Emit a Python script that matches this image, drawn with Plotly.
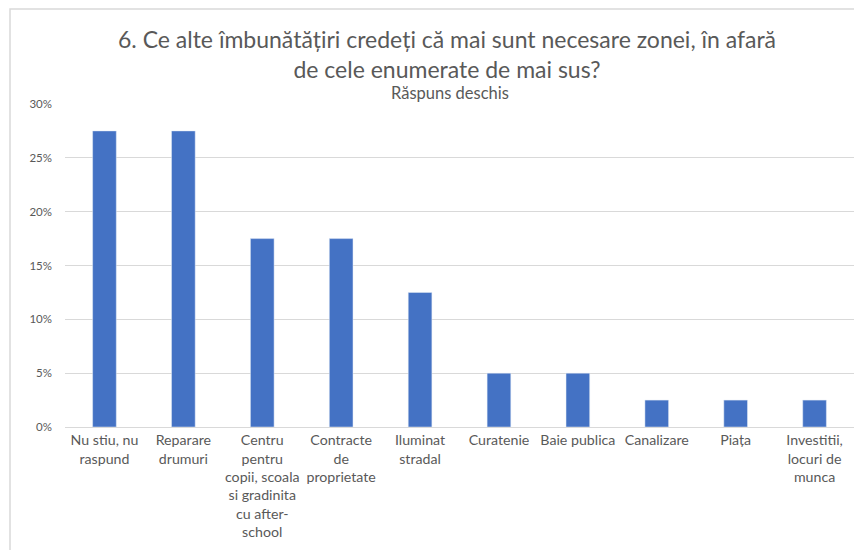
import plotly.graph_objects as go

categories = [
    "Nu stiu, nu<br>raspund",
    "Reparare<br>drumuri",
    "Centru<br>pentru<br>copii, scoala<br>si gradinita<br>cu after-<br>school",
    "Contracte<br>de<br>proprietate",
    "Iluminat<br>stradal",
    "Curatenie",
    "Baie publica",
    "Canalizare",
    "Piața",
    "Investitii,<br>locuri de<br>munca",
]
values = [0.275, 0.275, 0.175, 0.175, 0.125, 0.05, 0.05, 0.025, 0.025, 0.025]
y_ticks = [0, 0.05, 0.10, 0.15, 0.20, 0.25, 0.30]
y_tick_labels = ["0%", "5%", "10%", "15%", "20%", "25%", "30%"]

FONT = "Lato, 'Open Sans', sans-serif"
GRAY = "#595959"

fig = go.Figure(go.Bar(x=categories, y=values, marker_color="#4472C4", width=0.3))

fig.update_layout(
    width=846, height=542,
    margin=dict(l=57, r=0, t=96, b=123),
    paper_bgcolor="white", plot_bgcolor="white",
    showlegend=False,
    font=dict(family=FONT, color=GRAY, size=12),
    xaxis=dict(showgrid=False, showline=True, linecolor="#d9d9d9", linewidth=1,
               ticks="", tickfont=dict(size=14.2, color=GRAY), tickangle=0),
    yaxis=dict(range=[0, 0.3], tickvals=y_ticks, ticktext=y_tick_labels,
               showgrid=True, gridcolor="#d9d9d9", gridwidth=1, zeroline=False,
               showline=False, ticks="", tickfont=dict(size=11.5, color=GRAY),
               ticklabelstandoff=12),
    annotations=[
        dict(text="6. Ce alte îmbunătățiri credeți că mai sunt necesare zonei, în afară<br>de cele enumerate de mai sus?",
             x=0.484, xref="paper", y=1.155, yref="paper", yanchor="middle",
             showarrow=False, font=dict(size=23, color=GRAY, family=FONT)),
        dict(text="Răspuns deschis", x=0.488, xref="paper", y=1.0, yref="paper",
             yanchor="bottom", yshift=-1, showarrow=False,
             font=dict(size=16.5, color=GRAY, family=FONT)),
    ],
    shapes=[
        dict(type="rect", xref="paper", yref="paper",
             x0=-0.0697, x1=1.05, y0=-0.5, y1=1.294,
             line=dict(color="#d9d9d9", width=1.5), fillcolor="rgba(0,0,0,0)", layer="below"),
    ],
)

fig.write_html("out.html", config={"displayModeBar": False},
               post_script="document.body.style.overflow='hidden';")
